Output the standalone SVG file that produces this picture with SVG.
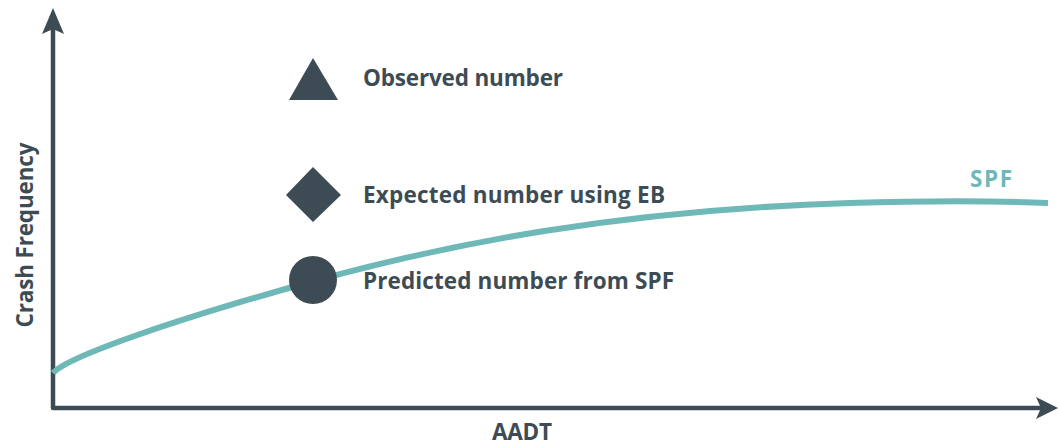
<svg xmlns="http://www.w3.org/2000/svg" width="1058" height="445" viewBox="0 0 1058 445">
<defs>
<style>
.axis{stroke:#3d4c54;stroke-width:4.5;fill:none;stroke-linejoin:round;stroke-linecap:round}
.head{fill:#3d4c54}
.mark{fill:#3d4c54}
.lbl{font-family:"Open Sans","Liberation Sans",sans-serif;font-weight:700;font-size:22.5px;fill:#3d4c54}
.spf{stroke:#6fb8b8;stroke-width:6;fill:none;stroke-linecap:butt}
</style>
</defs>
<rect width="1058" height="445" fill="#ffffff"/>
<g id="connectors">
<path class="axis" d="M53,30 L53,408 L1040,408"/>
<path class="head" d="M53,8 L64,34 L53,29 L42,34 Z"/>
<path class="head" d="M1058,408 L1036,397 L1041,408 L1036,419 Z"/>
<path id="spf-curve" class="spf" d="M53,373 C 68,356 180,318 314,281 C 448,244 620,210 850,203 C 950,200 1000,201 1048,203"/>
</g>
<g id="y-label"><text class="lbl" transform="translate(33,235) rotate(-90)" text-anchor="middle" textLength="185">Crash Frequency</text></g>
<g id="x-label"><text class="lbl" x="522" y="440" text-anchor="middle" textLength="60">AADT</text></g>
<g id="spf-label"><text class="lbl" x="991" y="187" text-anchor="middle" textLength="42" style="fill:#6fb8b8">SPF</text></g>
<g id="observed"><path class="mark" d="M313,58 L338,100 L289,100 Z"/><text class="lbl" x="363" y="86" textLength="200">Observed number</text></g>
<g id="expected"><path class="mark" d="M313,167 L341,195 L313,222 L286,195 Z"/><text class="lbl" x="363" y="203" textLength="302">Expected number using EB</text></g>
<g id="predicted"><circle class="mark" cx="313" cy="280" r="24"/><text class="lbl" x="363" y="289" textLength="311">Predicted number from SPF</text></g>
</svg>
